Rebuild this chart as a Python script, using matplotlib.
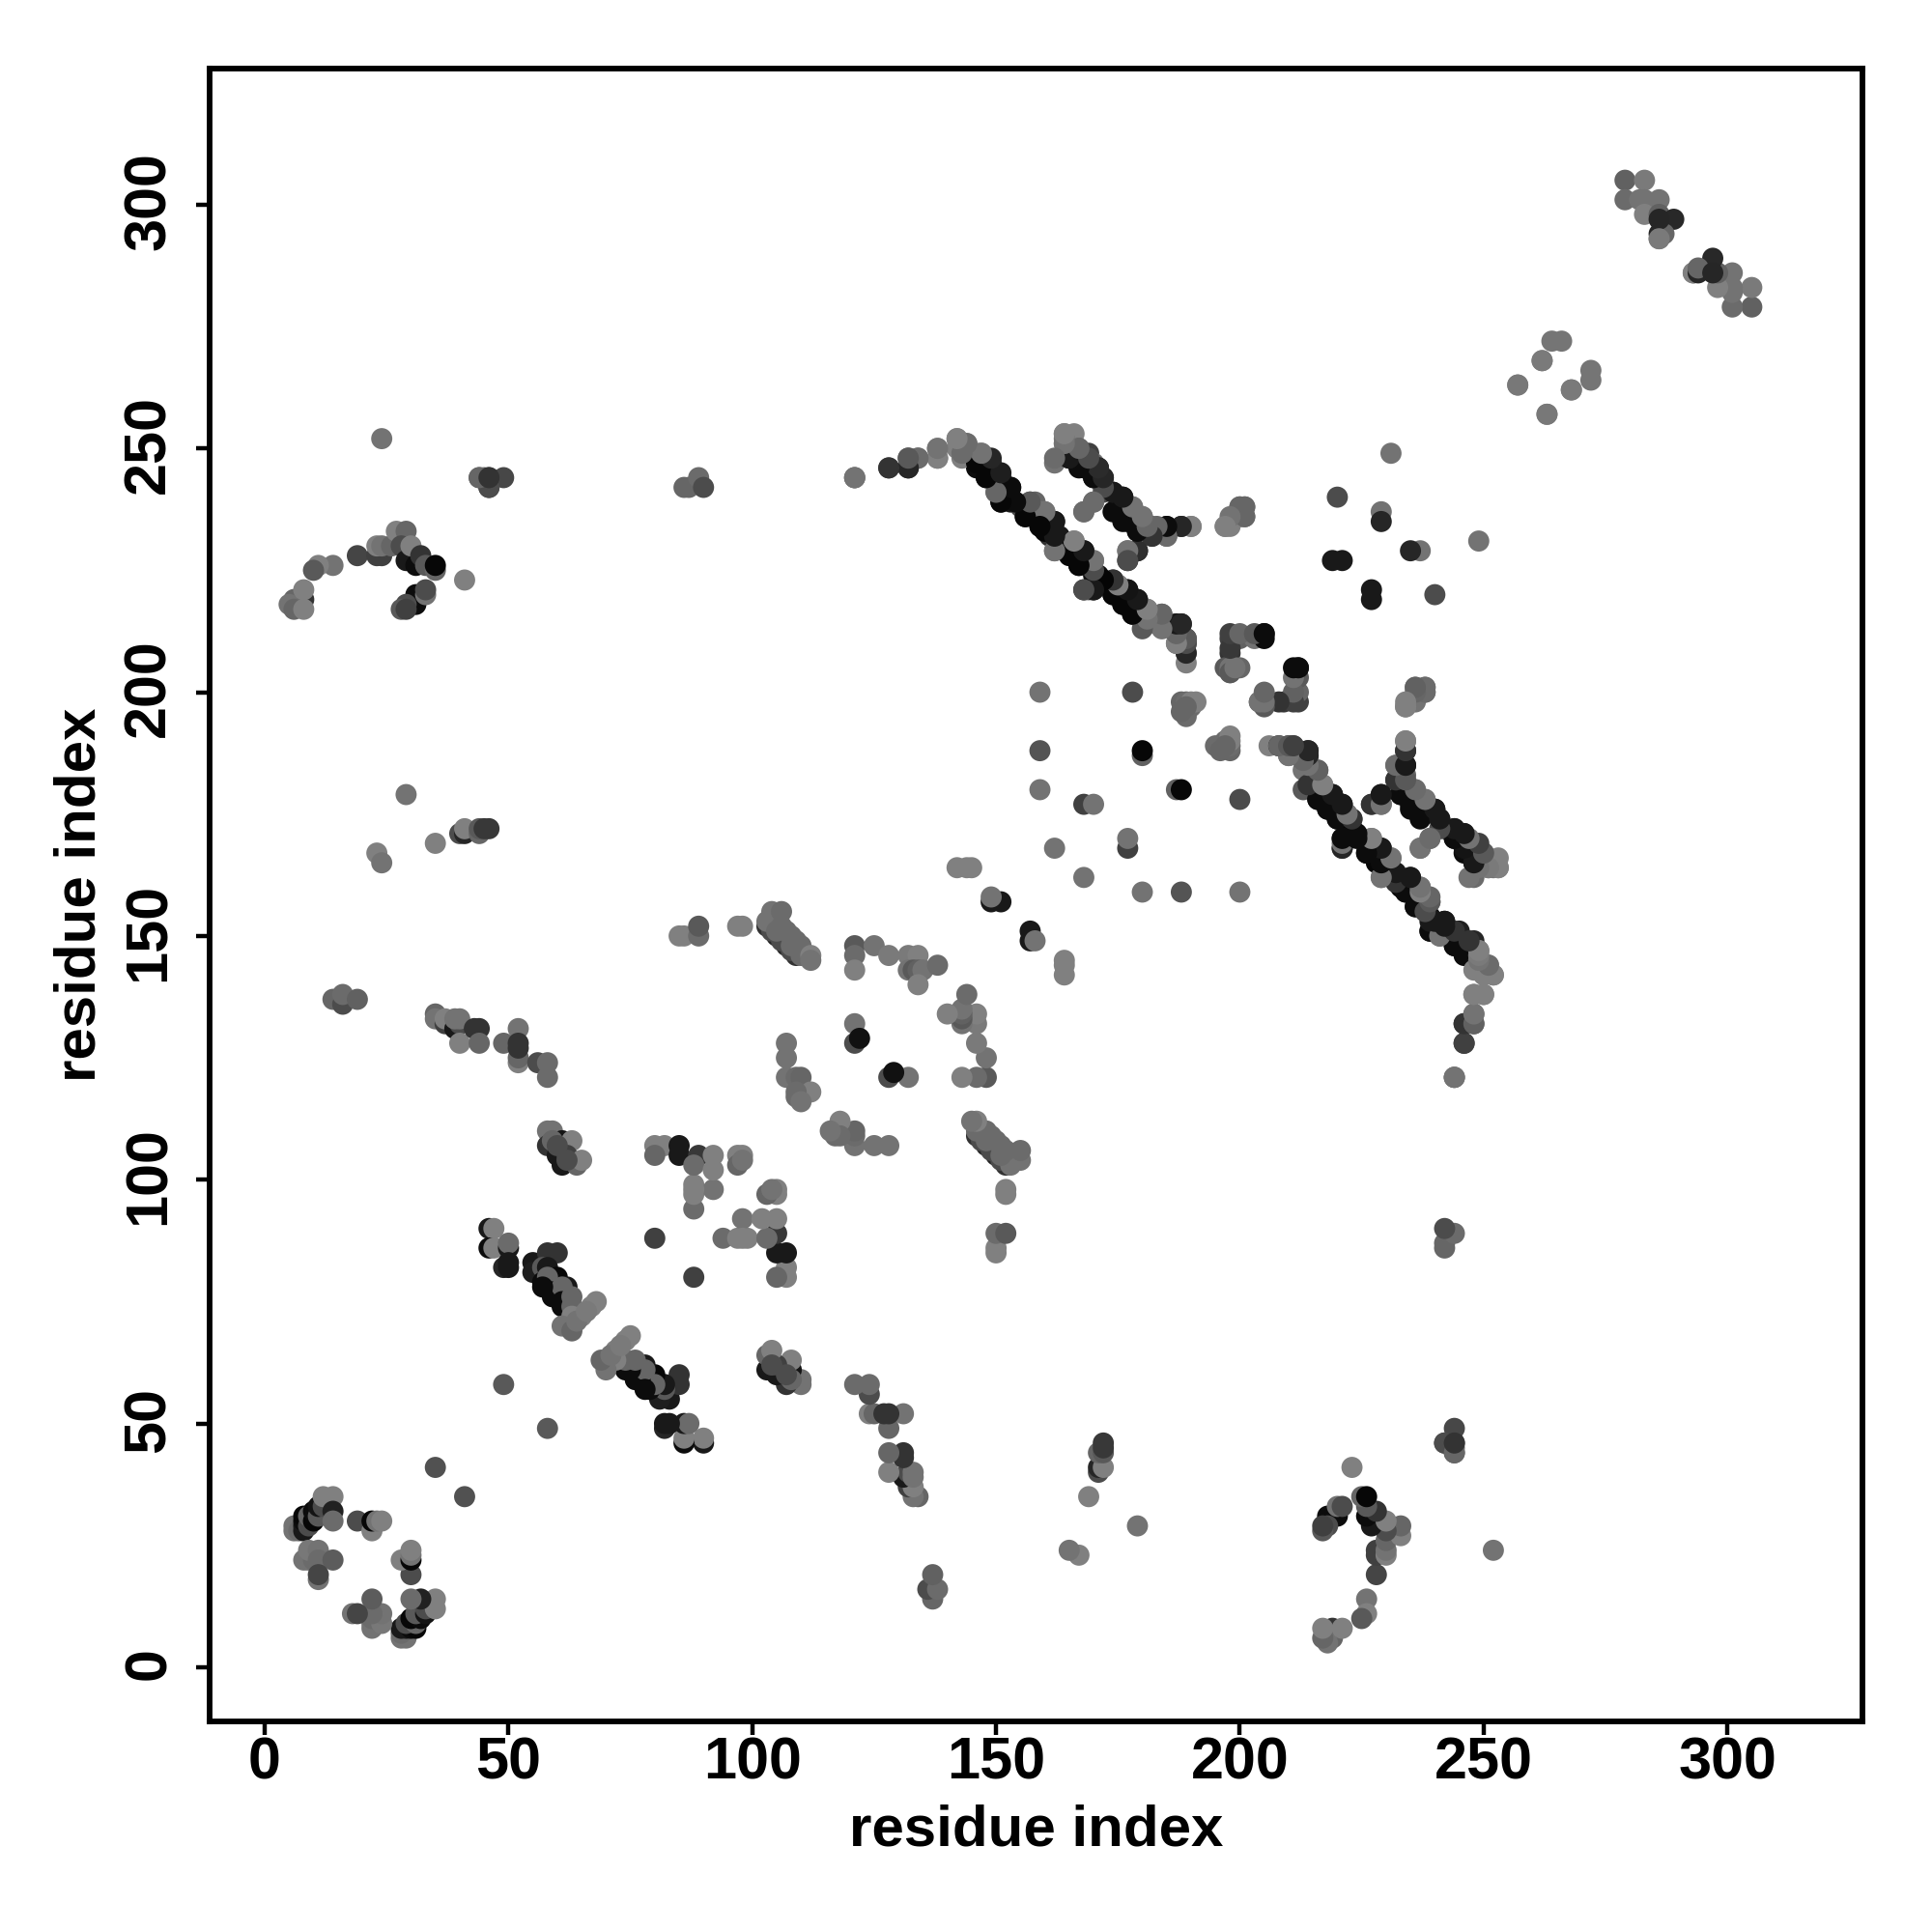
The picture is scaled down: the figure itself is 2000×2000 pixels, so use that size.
import numpy as np
import matplotlib
matplotlib.use("Agg")
import matplotlib.pyplot as plt
from matplotlib.transforms import ScaledTranslation

plt.rcParams['font.family'] = ['Liberation Sans', 'DejaVu Sans']
plt.rcParams['font.weight'] = 'bold'

# contacts as (residue i, residue j, grey level), i < j
# the map is symmetric so each one is drawn on both sides of the diagonal
corner_a = [(6,28,.45),(6,29,.45),(7,28,.42),(8,28,.1),(8,29,.1),(8,30,.05),(8,31,.03),(9,29,.3),(9,31,.4),
            (10,30,.03),(10,32,.05),(11,31,.35),(11,33,.08),(12,33,.3),(12,35,.5),(14,35,.5),(14,32,.13),(14,30,.42),
            (8,22,.45),(9,22,.45),(9,23,.45),(10,22,.42),(9,24,.47),(11,24,.45),(11,22,.42),(14,22,.36),
            (11,18,.45),(11,19,.27),(19,30,.3),(22,28,.5),(22,30,.03),(23,30,.45),(24,30,.5),(35,41,.32)]

corner_b = [(24,252,.45),(44,244,.3),(45,244,.45),(46,244,.2),(46,242,.2),(49,244,.28),(19,228,.27),
            (14,226,.45),(11,226,.5),(10,225,.35),(8,219,.2),(6,219,.4),(5,218,.45),(6,217,.4),(8,217,.5),(8,221,.5),
            (23,228,.25),(24,228,.25),(23,230,.5),(24,230,.45),(26,230,.4),(27,233,.5),(29,233,.4),(28,230,.3),
            (29,227,.1),(31,226,.05),(30,230,.5),(32,228,.2),(33,226,.35),(35,225,.4),(35,226,.03),
            (31,220,.05),(31,218,.05),(33,220,.45),(33,221,.3),(29,218,.3),(28,217,.35),(29,217,.25),(41,223,.5)]

left_mid = [(29,179,.45),(23,167,.5),(24,165,.45),(35,169,.5),(40,171,.3),(41,171,.15),(41,172,.5),(44,171,.4),
            (44,172,.35),(45,172,.22),(46,172,.22),(14,137,.4),(16,136,.3),(16,138,.42),(19,137,.38),
            (35,134,.4),(35,133,.45),(37,132,.25),(37,133,.5),(39,131,.1),(40,132,.3),(39,133,.45),(40,133,.45),
            (40,128,.5),(43,131,.2),(44,131,.2),(44,128,.4),(49,128,.4),(52,131,.45),(52,124,.5),(52,125,.4),
            (52,127,.2),(52,128,.2),(56,124,.3),(58,124,.42),(58,121,.42)]

sheet_a = [(46,90,.1),(47,90,.5),(46,86,.05),(47,86,.5),(50,86,.1),(50,87,.42),(49,82,.15),(50,82,.1),(50,83,.1),
           (55,83,.1),(55,81,.12),(58,85,.2),(60,85,.2),(57,82,.35),(58,82,.1),(57,79,.05),(60,80,.03),(58,80,.4),
           (59,77,.03),(59,76,.05),(62,78,.1),(61,78,.4),(61,75,.05),(61,74,.05),(63,76,.4),(63,74,.4),(68,75,.5),
           (67,74,.5),(65,72,.5),(63,72,.5),(61,70,.45),(63,69,.4),(64,71,.45),(66,73,.48),(57,78,.05),
           (49,58,.35),(58,110,.45),(59,110,.45),(58,107,.2),(60,105,.1),(61,103,.1),(61,108,.08),(63,108,.5),
           (62,105,.25),(64,103,.4),(65,104,.5),(59,108,.4),(60,107,.3),(62,104,.3)]

block_80 = [(80,88,.25),(88,94,.42),(88,97,.5),(88,99,.5),(92,98,.45),(80,107,.5),(82,107,.5),(80,105,.4),
            (85,107,.1),(85,105,.1),(89,105,.22),(88,103,.42),(88,98,.5),(92,105,.5),(92,102,.5),(97,105,.5),
            (98,105,.5),(97,103,.4),(98,104,.45)]

block_100 = [(85,150,.5),(86,150,.5),(89,150,.42),(89,152,.35),(97,152,.5),(98,152,.5),
             (103,152,.2),(105,150,.15),(107,148,.15),(109,146,.2),(104,151,.3),(106,149,.3),(108,147,.3),
             (103,153,.45),(104,155,.45),(104,153,.45),(106,155,.42),(105,151,.42),(106,152,.42),(107,151,.42),
             (108,150,.42),(108,148,.42),(109,149,.42),(110,148,.42),(110,146,.42),(112,146,.5),(112,145,.45),
             (121,148,.35),(121,146,.42),(121,143,.5),(125,148,.45),(128,146,.48),(132,146,.48),(134,146,.5),
             (132,143,.45),(133,143,.35),(134,143,.38),(135,143,.45),(134,140,.5),(138,144,.42),
             (107,128,.45),(107,125,.45),(107,121,.45),(109,121,.42),(110,121,.4),(112,118,.5),(109,118,.42),
             (109,117,.42),(110,116,.45),(121,132,.45),(121,128,.3),(122,129,.07),
             (151,157,.1),(149,157,.1),(149,158,.45),(142,164,.5),(144,164,.5),(145,164,.5)]

strand_top = [(121,244,.45),(128,246,.25),(132,246,.2),(132,248,.38),(134,248,.45),(138,250,.5),(138,248,.5),
              (146,246,.05),(148,244,.05),(151,239,.05),(153,239,.1),(156,236,.05),(159,234,.05),(161,232,.2),
              (142,252,.5),(142,250,.5),(143,248,.5),(144,251,.42),(145,249,.45),(146,249,.48),(147,249,.5),
              (149,247,.2),(150,241,.45),(151,244,.2),(152,242,.1),(153,242,.1),(153,240,.1),(155,238,.3),
              (157,239,.35),(158,239,.4),(159,237,.5),(160,237,.45),(162,235,.1),(163,232,.1),(162,229,.45),
              (165,229,.05),(166,231,.45),(168,229,.1),(167,226,.05),(170,227,.5),(168,221,.15),(169,221,.45),
              (170,224,.05),(170,221,.05),(171,224,.05),(174,220,.05),(176,218,.05),(178,216,.05),(181,214,.2),
              (174,223,.2),(175,222,.45),(177,221,.1),(179,219,.1),(181,217,.5),(184,216,.38),(185,214,.45),
              (187,214,.15),(186,213,.4),(188,214,.15),(187,210,.45),(189,208,.4),(189,210,.35),(189,211,.25)]

strand_up = [(164,253,.5),(166,253,.5),(164,251,.48),(164,249,.45),(162,247,.45),(165,248,.1),(168,246,.08),
             (170,244,.05),(167,250,.35),(169,249,.25),(170,247,.45),(171,246,.1),(172,244,.1),(172,241,.3),
             (174,237,.05),(176,235,.05),(179,233,.05),(174,241,.1),(176,240,.1),(178,238,.45),(180,236,.42),
             (182,232,.2),(182,234,.35),(185,232,.42),(185,234,.1),(188,234,.2),(190,234,.5),
             (168,237,.45),(170,239,.42),(177,227,.2),(177,229,.45),(179,229,.1),
             (200,238,.42),(201,238,.42),(200,236,.4),(201,236,.38),(197,234,.5),(198,234,.5)]

scattered = [(159,200,.45),(178,200,.3),(159,188,.33),(159,180,.45),(180,187,.38),(180,188,.03),(168,177,.25),
             (170,177,.45),(162,168,.45),(188,198,.4),(189,198,.42),(189,195,.42),(190,197,.42),(190,198,.5),
             (191,198,.5),(188,196,.4),(189,197,.4),
             (198,211,.25),(200,211,.38),(203,211,.45),(205,211,.05),(205,212,.05),(198,208,.2),(197,205,.35),
             (198,205,.45),(198,204,.45),(200,205,.4),(204,198,.35),(205,199,.45),(209,198,.22),(212,198,.25),
             (212,200,.4),(212,203,.35),(212,205,.05),(219,227,.1),(221,227,.1),(220,240,.3),(229,237,.45),
             (229,235,.15),(231,249,.45),(86,242,.4),(87,242,.4),(89,244,.42),(90,242,.3),
             (46,242,.3),(44,244,.4),(46,244,.2),(121,244,.45)]

strand_low = [(206,189,.5),(208,189,.15),(210,189,.3),(211,189,.35),(210,187,.5),(212,187,.4),(214,187,.1),
              (214,188,.15),(213,184,.45),(216,184,.4),(213,180,.35),(215,181,.45),(216,178,.03),(218,176,.03),
              (220,174,.03),(217,181,.5),(219,179,.1),(221,177,.08),(222,175,.5),(223,174,.2),(223,172,.02),
              (221,170,.1),(221,168,.3),(225,170,.3),(227,170,.45),(226,167,.03),(228,165,.03),(229,168,.1),
              (231,166,.5),(229,162,.45),(233,160,.03),(232,162,.1),(235,162,.1),(237,160,.45),(234,159,.03),
              (236,156,.03),(239,157,.35),(239,154,.05),(239,151,.03),(242,153,.05),(241,150,.4),(244,148,.03),
              (245,151,.12),(247,146,.03),(248,149,.15),(249,147,.45),(249,143,.42),(251,144,.42),(252,142,.5),
              (248,138,.5),(250,138,.45),(248,134,.42),(246,132,.15),(248,132,.35),(246,128,.2),(244,121,.45),
              (229,179,.18),(229,177,.45),(227,177,.3)]

strand_side = [(238,200,.4),(238,201,.4),(236,201,.4),(236,198,.45),(234,197,.5),(234,190,.5),(234,188,.15),
               (232,185,.42),(234,185,.05),(234,183,.4),(232,182,.2),(233,179,.05),(235,177,.05),(237,175,.05),
               (234,181,.4),(236,180,.45),(238,178,.45),(240,176,.1),(241,174,.1),(242,172,.3),(244,170,.05),
               (244,172,.15),(246,171,.17),(246,167,.05),(248,165,.1),(248,169,.3),(250,167,.4),(251,164,.45),
               (252,164,.45),(253,164,.5),(248,162,.42),(239,170,.42),(237,168,.42)]

far_end = [(257,263,.47),(262,268,.48),(263,257,.47),(264,272,.46),(266,272,.46),(268,262,.48),
           (279,305,.38),(283,305,.48),(279,301,.42),(283,301,.45),(282,301,.45),(286,301,.45),(283,298,.5),
           (286,298,.38),(289,297,.16),(286,293,.5),(286,294,.15),(287,294,.4)]

far_mid = [(293,286,.48),(286,297,.15)]

tick_vals = [0, 50, 100, 150, 200, 250, 300]

contacts = corner_a + corner_b + left_mid + sheet_a + block_80 + block_100 + strand_up + scattered \
    + strand_top + strand_low + strand_side + far_end + far_mid
res_i = np.array([c[0] for c in contacts])
res_j = np.array([c[1] for c in contacts])
grey = np.array([c[2] for c in contacts])

fig = plt.figure(figsize=(10, 10), dpi=200)
ax = fig.add_axes([0.1085, 0.109, 0.8555, 0.8555])

ax.scatter(np.r_[res_i, res_j], np.r_[res_j, res_i], c=np.r_[grey, grey], cmap='gray', vmin=0, vmax=1,
           s=62, linewidths=0, zorder=2)

ax.set_xlim(-11.3, 327.7)
ax.set_ylim(-11.1, 327.9)
ax.set_xticks(tick_vals)
ax.set_yticks(tick_vals)
ax.tick_params(axis='x', length=5, width=1.6, labelsize=22, pad=0.5)
ax.tick_params(axis='y', length=5, width=1.6, labelsize=22, pad=7)

# rotated labels sit a bit low, nudge them up
nudge = ScaledTranslation(0, 4 / 200, fig.dpi_scale_trans)
for lab in ax.get_yticklabels():
    lab.set_rotation(90)
    lab.set_va('center')
    lab.set_transform(lab.get_transform() + nudge)

for s in ax.spines.values():
    s.set_linewidth(2.1)

ax.set_xlabel("residue index", fontsize=21.6, fontweight='bold', labelpad=4.8)
ax.set_ylabel("residue index", fontsize=21.6, fontweight='bold', labelpad=5.7)

fig.savefig("out.png", dpi=200)
